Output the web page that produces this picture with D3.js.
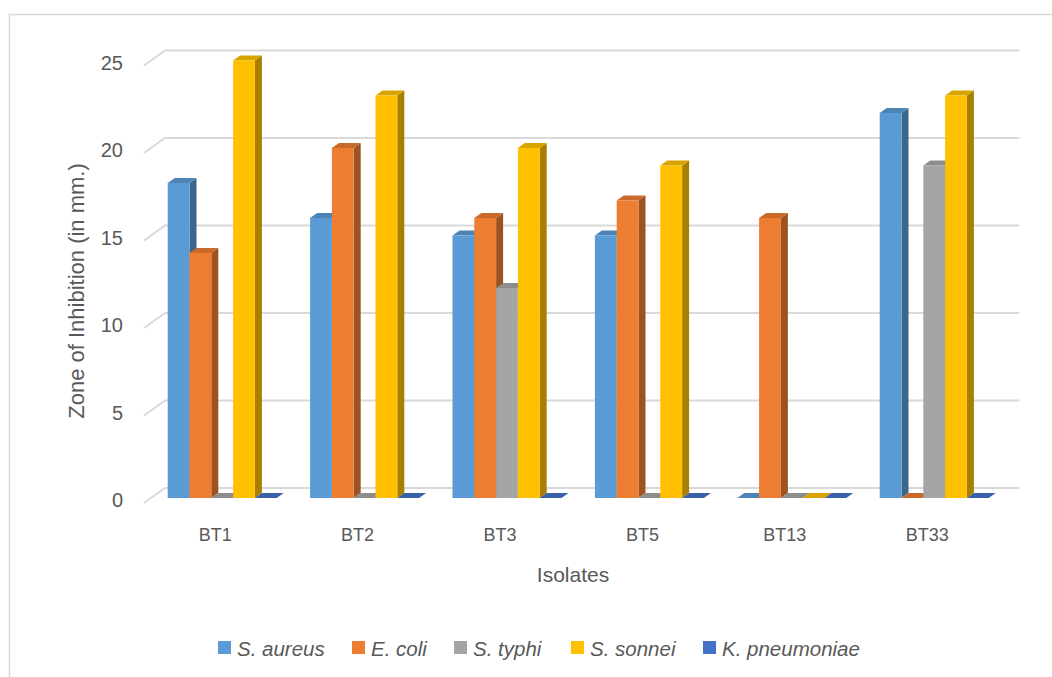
<!DOCTYPE html>
<html>
<head>
<meta charset="utf-8">
<script src="https://cdn.jsdelivr.net/npm/d3@7/dist/d3.min.js"></script>
<style>
  html, body { margin: 0; padding: 0; background: #fff; }
  svg { display: block; font-family: "Liberation Sans", Arial, sans-serif; }
</style>
</head>
<body>
<svg id="chart" width="1052" height="677"></svg>
<script>
// Zone of inhibition per isolate against each test organism
const categories = ["BT1", "BT2", "BT3", "BT5", "BT13", "BT33"];
const seriesNames = ["S. aureus", "E. coli", "S. typhi", "S. sonnei", "K. pneumoniae"];
const sAureus     = [18, 16, 15, 15, 0, 22];
const eColi       = [14, 20, 16, 17, 16, 0];
const sTyphi      = [0, 0, 12, 0, 0, 19];
const sSonnei     = [25, 23, 20, 19, 0, 23];
const kPneumoniae = [0, 0, 0, 0, 0, 0];
const seriesValues = [sAureus, eColi, sTyphi, sSonnei, kPneumoniae];
const seriesColors = ["#5B9BD5", "#ED7D31", "#A5A5A5", "#FFC000", "#4472C4"];
const yTicks = [0, 5, 10, 15, 20, 25];

const svg = d3.select("#chart");
const textColor = "#595959";

// chart frame
svg.append("rect")
  .attr("x", 9.5).attr("y", 14.5)
  .attr("width", 1060).attr("height", 680)
  .attr("fill", "#fff").attr("stroke", "#d9d9d9").attr("stroke-width", 1.5);

// oblique projection: front plane scales plus a depth vector
const depthX = 21, depthY = -15;
const x = d3.scaleBand().domain(categories).range([144, 998.4]).paddingInner(0).paddingOuter(0);
const innerPad = 16.7;
const xs = d3.scaleBand().domain(seriesNames).range([innerPad, x.bandwidth() - innerPad]);
const y = d3.scaleLinear().domain([0, 25]).range([503, 65.5]);
const proj = (px, v, d) => [px + depthX * d, y(v) + depthY * d];

// gridlines: side-wall diagonal then back wall
const grid = svg.append("g");
yTicks.forEach(t => {
  const p0 = proj(x.range()[0], t, 0);
  const p1 = proj(x.range()[0], t, 1);
  const p2 = proj(x.range()[1], t, 1);
  grid.append("polyline")
    .attr("points", [p0, p1, p2].map(p => p.join(",")).join(" "))
    .attr("fill", "none").attr("stroke", "#d9d9d9").attr("stroke-width", 2);
});

// y-axis tick labels
svg.append("g").selectAll("text").data(yTicks).join("text")
  .attr("x", 123).attr("y", d => y(d) - 3)
  .attr("text-anchor", "end").attr("dominant-baseline", "central")
  .attr("font-size", 20).attr("fill", textColor)
  .text(d => d);

// 3D columns, drawn left to right so nearer faces cover farther ones
const d0 = 1 / 3, d1 = 2 / 3;
const bars = svg.append("g");
categories.forEach((cat, ci) => {
  seriesNames.forEach((name, si) => {
    const v = seriesValues[si][ci];
    const xl = x(cat) + xs(name);
    const xr = xl + xs.bandwidth();
    const base = d3.color(seriesColors[si]);
    const fl = proj(xl, 0, d0), fr = proj(xr, 0, d0);
    const tl = proj(xl, v, d0), tr = proj(xr, v, d0);
    const btl = proj(xl, v, d1), btr = proj(xr, v, d1), bbr = proj(xr, 0, d1);
    const poly = pts => pts.map(p => p.join(",")).join(" ");
    // right side face
    bars.append("polygon").attr("points", poly([fr, tr, btr, bbr]))
      .attr("fill", base.darker(1.15));
    // top face
    bars.append("polygon").attr("points", poly([tl, tr, btr, btl]))
      .attr("fill", base.darker(0.45));
    // front face
    bars.append("polygon").attr("points", poly([fl, fr, tr, tl]))
      .attr("fill", base);
  });
});

// category labels
svg.append("g").selectAll("text").data(categories).join("text")
  .attr("x", d => x(d) + x.bandwidth() / 2).attr("y", 535)
  .attr("text-anchor", "middle").attr("dominant-baseline", "central")
  .attr("font-size", 18).attr("fill", textColor)
  .text(d => d);

// axis titles
svg.append("text")
  .attr("transform", "translate(76,291) rotate(-90)")
  .attr("text-anchor", "middle").attr("dominant-baseline", "central")
  .attr("font-size", 22).attr("fill", textColor)
  .text("Zone of Inhibition (in mm.)");

svg.append("text")
  .attr("x", 573).attr("y", 574)
  .attr("text-anchor", "middle").attr("dominant-baseline", "central")
  .attr("font-size", 21).attr("fill", textColor)
  .text("Isolates");

// legend: one swatch + italic name per series
const legendX = [218, 352, 454, 571, 703];
const legend = svg.append("g");
seriesNames.forEach((name, i) => {
  const lx = legendX[i];
  legend.append("rect")
    .attr("x", lx).attr("y", 641).attr("width", 13).attr("height", 13)
    .attr("fill", seriesColors[i]);
  legend.append("text")
    .attr("x", lx + 19).attr("y", 648)
    .attr("dominant-baseline", "central")
    .attr("font-size", 20.5).attr("font-style", "italic").attr("fill", textColor)
    .text(name);
});
</script>
</body>
</html>
